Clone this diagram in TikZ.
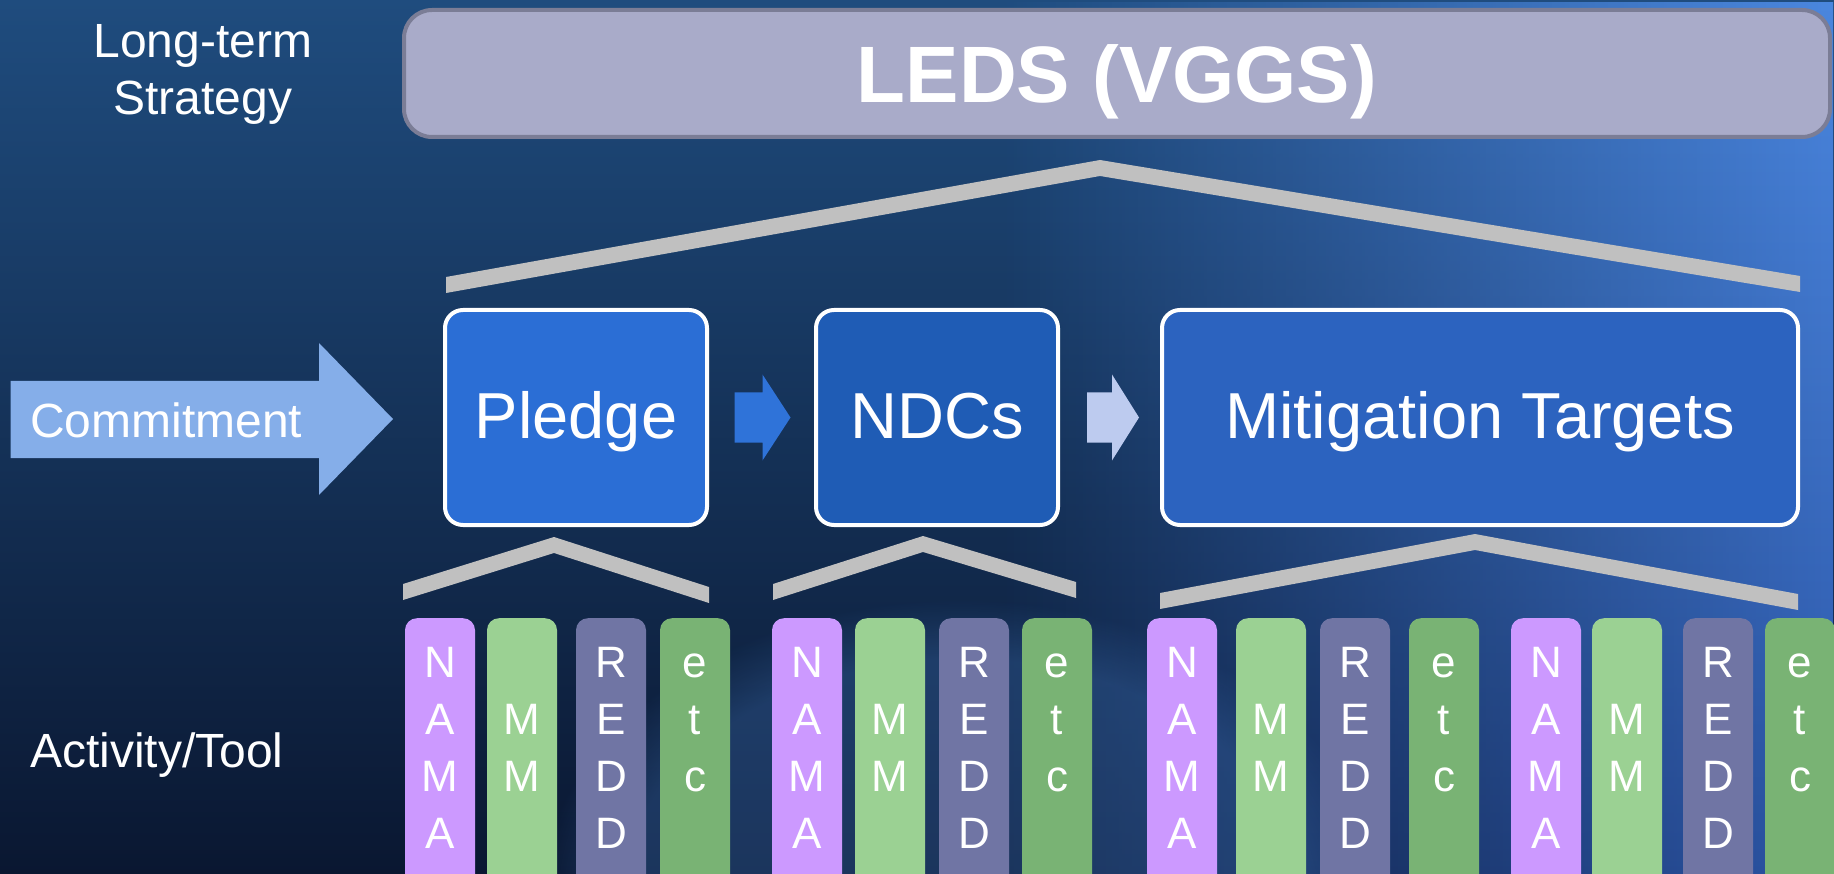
\documentclass[tikz,border=0pt]{standalone}
\usepackage{fontspec}
\setmainfont{Liberation Sans}
\usetikzlibrary{positioning, calc, fadings}

\definecolor{bgtop}{HTML}{1F4C7E}
\definecolor{bgmid}{HTML}{0E2446}
\definecolor{bgbot}{HTML}{0A1731}
\definecolor{glowtop}{HTML}{4B87DF}
\definecolor{glowbot}{HTML}{2C56A8}
\definecolor{waterglow}{HTML}{3C6EB0}
\definecolor{ledsfill}{HTML}{A9ABC9}
\definecolor{ledsline}{HTML}{7B7D96}
\definecolor{bracketgray}{HTML}{C0C0C0}
\definecolor{commitfill}{HTML}{85AEE9}
\definecolor{pledgefill}{HTML}{2B6ED5}
\definecolor{ndcfill}{HTML}{1F5CB5}
\definecolor{targetfill}{HTML}{2C63BF}
\definecolor{darkarrow}{HTML}{2F73D9}
\definecolor{lightarrow}{HTML}{BDCBEF}
\definecolor{namafill}{HTML}{CC99FF}
\definecolor{mmfill}{HTML}{9BD193}
\definecolor{reddfill}{HTML}{7075A4}
\definecolor{etcfill}{HTML}{79B374}

\begin{document}
\begin{tikzpicture}[x=1pt, y=-1pt,
    sidelabel/.style={text=white, inner sep=0, font=\fontsize{48}{57}\selectfont},
    ledsbox/.style={draw=ledsline, fill=ledsfill, line width=4pt, rounded corners=28pt, minimum width=1426pt, minimum height=127pt, text=white, font=\bfseries\fontsize{80}{96}\selectfont, text height=64pt, text depth=5pt},
    stagebox/.style={draw=white, line width=4pt, rounded corners=18pt, minimum height=215pt, text=white, font=\fontsize{65}{78}\selectfont, text height=47pt, text depth=5pt},
    bracket/.style={fill=bracketgray},
    bar/.style={anchor=north, minimum width=70pt, minimum height=300pt, rounded corners=12pt, inner sep=0},
    barword/.style={anchor=base, text=white, text width=70pt, align=center, inner sep=0, font=\fontsize{44}{57}\selectfont}
]
\useasboundingbox (0,0) rectangle (1834,874);
\clip (0,0) rectangle (1834,874);

% Background
\fill[top color=bgtop, middle color=bgmid, bottom color=bgbot] (0,0) rectangle (1834,874);
\shade[top color=glowtop, bottom color=glowbot, path fading=west] (1000,0) rectangle (1834,874);
\fill[waterglow, opacity=0.35, path fading=circle with fuzzy edge 20 percent] (960,900) ellipse (420 and 300);

% Long-term strategy
\node[sidelabel, text width=260pt, align=center, anchor=base] (longterm) at (203,58) {Long-term\\Strategy};
\node[ledsbox] (leds) at (1117,73.5) {LEDS (VGGS)};

% Commitment row
\fill[commitfill] (10.5,381) -- (319,381) -- (319,343) -- (393,419) -- (319,495) -- (319,458) -- (10.5,458) -- cycle;
\node[sidelabel, anchor=base west] (commit) at (30,437) {Commitment};

\node[stagebox, fill=pledgefill, minimum width=262pt] (pledge) at (576,417.5) {Pledge};
\node[stagebox, fill=ndcfill, minimum width=242pt, right=105pt of pledge] (ndcs) {NDCs};
\node[stagebox, fill=targetfill, minimum width=636pt, right=100pt of ndcs] (targets) {Mitigation Targets};

\fill[darkarrow, shift={($(pledge.east)!0.5!(ndcs.west)$)}] (-27,-25) -- (1,-25) -- (1,-43) -- (29,0) -- (1,43) -- (1,25) -- (-27,25) -- cycle;
\fill[lightarrow, shift={($(ndcs.east)!0.5!(targets.west)$)}] (-23,-25) -- (2,-25) -- (2,-43) -- (29,0) -- (2,43) -- (2,25) -- (-23,25) -- cycle;

% Brackets
\foreach \xa/\ya/\xb/\yb/\xc/\yc in {446/277/1100/160/1800/276, 403/584/554/537/709/587,
    773/584/923/536/1076/582, 1160/593/1475/534/1798/594}
    \fill[bracket] (\xa,\ya) -- (\xb,\yb) -- (\xc,\yc) -- (\xc,\yc+16) -- (\xb,\yb+16) -- (\xa,\ya+16) -- cycle;

% Activity/Tool bars
\node[sidelabel, anchor=base west] (activity) at (30,767) {Activity/Tool};
\foreach \bx/\bcol/\bword/\brow [count=\i] in {
    405/namafill/{N\\A\\M\\A}/0, 487/mmfill/{M\\M}/1, 576/reddfill/{R\\E\\D\\D}/0, 660/etcfill/{e\\t\\c}/0,
    772/namafill/{N\\A\\M\\A}/0, 855/mmfill/{M\\M}/1, 939/reddfill/{R\\E\\D\\D}/0, 1022/etcfill/{e\\t\\c}/0,
    1147/namafill/{N\\A\\M\\A}/0, 1236/mmfill/{M\\M}/1, 1320/reddfill/{R\\E\\D\\D}/0, 1409/etcfill/{e\\t\\c}/0,
    1511/namafill/{N\\A\\M\\A}/0, 1592/mmfill/{M\\M}/1, 1683/reddfill/{R\\E\\D\\D}/0, 1765/etcfill/{e\\t\\c}/0} {
    \node[bar, fill=\bcol] (bar\i) at (\bx+35,618) {};
    \node[barword] (word\i) at (\bx+35,677+57*\brow) {\bword};
}
\end{tikzpicture}
\end{document}
